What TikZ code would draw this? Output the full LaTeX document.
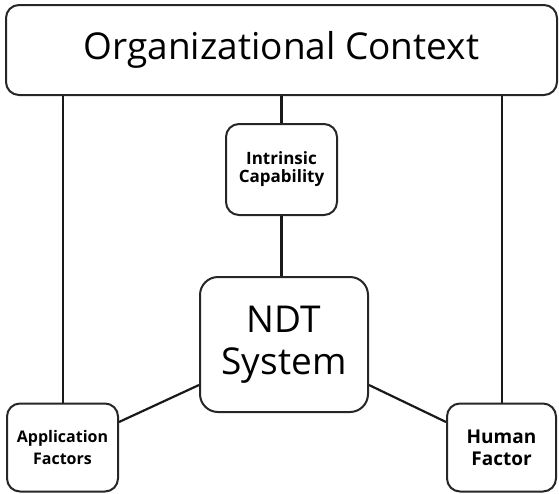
\documentclass[tikz,border=0pt]{standalone}
\usepackage{fontspec}
\setmainfont{Open Sans}
\begin{document}
\begin{tikzpicture}[x=1pt,y=-1pt,
  box/.style={draw=black!85,line width=2pt,rounded corners=13pt,inner sep=0pt,align=center},
  link/.style={draw=black!90,line width=2.2pt}]
\useasboundingbox (0,0) rectangle (559,493);
\node[box,minimum width=551pt,minimum height=90pt,font=\fontsize{37}{44}\selectfont] (org) at (281.5,50) {Organizational Context};
\node[box,minimum width=111pt,minimum height=91pt,font=\bfseries\fontsize{17}{18}\selectfont] (ic) at (281.5,169.5) {Intrinsic\\Capability};
\node[box,minimum width=168pt,minimum height=135pt,rounded corners=18pt,font=\fontsize{37}{42}\selectfont] (ndt) at (284,344.5) {\raisebox{0pt}[\height][0pt]{}NDT\\System};
\node[box,minimum width=111pt,minimum height=88pt,font=\bfseries\fontsize{16}{22}\selectfont] (app) at (62.5,447.5) {Application\\Factors};
\node[box,minimum width=109pt,minimum height=88pt,font=\bfseries\fontsize{19}{22}\selectfont] (hf) at (501.5,447.5) {Human\\Factor};
\draw[link] (org.south -| app.north) ++(0.5,0) coordinate (a1) -- (a1 |- app.north);
\draw[link] (org.south -| hf.north) ++(0.5,0) coordinate (h1) -- (h1 |- hf.north);
\draw[link] (org.south -| ic.north) -- (ic.north);
\draw[link] (ic.south) -- (ic.south |- ndt.north);
\draw[link] (ndt.west |- 0,385) coordinate (n1) -- (app.east |- 0,422) coordinate (a2);
\draw[link] (ndt.east |- 0,385) coordinate (n2) -- (hf.west |- 0,422) coordinate (h2);
\end{tikzpicture}
\end{document}
